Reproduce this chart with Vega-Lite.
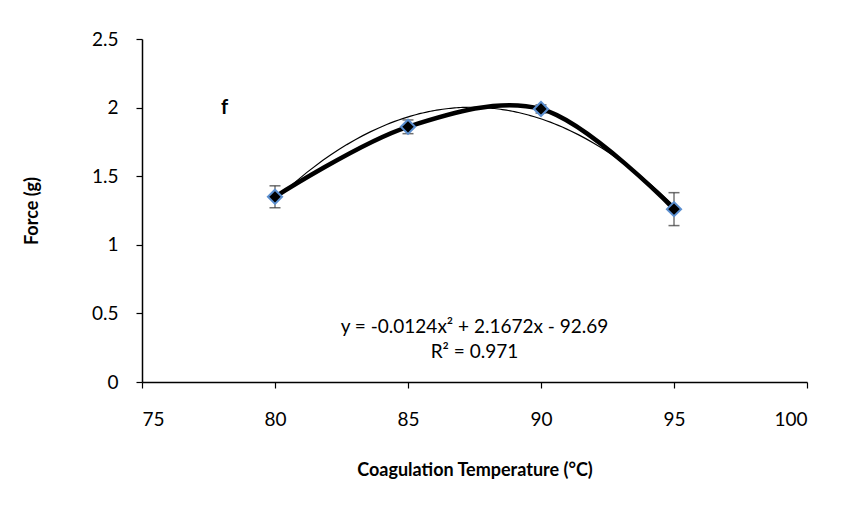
{
  "$schema": "https://vega.github.io/schema/vega-lite/v6.json",
  "autosize": "none",
  "width": 665,
  "height": 343,
  "padding": {"left": 142, "top": 39, "right": 38, "bottom": 134},
  "background": "white",
  "config": {
    "view": {"stroke": null},
    "font": "Lato",
    "axis": {
      "grid": false,
      "domainColor": "black",
      "domainWidth": 1.5,
      "tickColor": "black",
      "tickWidth": 1.2,
      "tickSize": 6,
      "labelFont": "Lato",
      "labelFontSize": 19,
      "labelColor": "black",
      "titleFont": "Lato",
      "titleFontSize": 18,
      "titleFontWeight": "bold",
      "titleColor": "black"
    }
  },
  "data": {
    "values": [
      {"temp": 80, "force": 1.35, "lo": 1.27, "hi": 1.43},
      {"temp": 85, "force": 1.86, "lo": 1.81, "hi": 1.91},
      {"temp": 90, "force": 1.99, "lo": 1.96, "hi": 2.02},
      {"temp": 95, "force": 1.26, "lo": 1.14, "hi": 1.38}
    ]
  },
  "layer": [
    {
      "transform": [
        {"regression": "force", "on": "temp", "method": "poly", "order": 2, "extent": [80, 95]}
      ],
      "mark": {"type": "line", "color": "black", "strokeWidth": 1.2},
      "encoding": {
        "x": {"field": "temp", "type": "quantitative"},
        "y": {"field": "force", "type": "quantitative"}
      }
    },
    {
      "mark": {"type": "line", "color": "black", "strokeWidth": 4.5, "interpolate": "catmull-rom"},
      "encoding": {
        "x": {
          "field": "temp", "type": "quantitative",
          "scale": {"domain": [75, 100], "nice": false, "zero": false},
          "axis": {"title": "Coagulation Temperature (°C)", "values": [75, 80, 85, 90, 95, 100], "format": "d", "labelPadding": 22, "titlePadding": 32}
        },
        "y": {
          "field": "force", "type": "quantitative",
          "scale": {"domain": [0, 2.5], "nice": false},
          "axis": {"title": "Force (g)", "values": [0, 0.5, 1, 1.5, 2, 2.5], "format": "~g", "labelPadding": 18, "titlePadding": 50}
        }
      }
    },
    {
      "mark": {"type": "rule", "color": "#333333", "strokeWidth": 1},
      "encoding": {
        "x": {"field": "temp", "type": "quantitative"},
        "y": {"field": "lo", "type": "quantitative"},
        "y2": {"field": "hi"}
      }
    },
    {
      "mark": {"type": "tick", "orient": "horizontal", "color": "#333333", "thickness": 1.5, "size": 11},
      "encoding": {
        "x": {"field": "temp", "type": "quantitative"},
        "y": {"field": "lo", "type": "quantitative"}
      }
    },
    {
      "mark": {"type": "tick", "orient": "horizontal", "color": "#333333", "thickness": 1.5, "size": 11},
      "encoding": {
        "x": {"field": "temp", "type": "quantitative"},
        "y": {"field": "hi", "type": "quantitative"}
      }
    },
    {
      "mark": {"type": "point", "shape": "diamond", "filled": true, "fill": "black", "stroke": "#5b8fd0", "strokeWidth": 2, "size": 200, "opacity": 1},
      "encoding": {
        "x": {"field": "temp", "type": "quantitative"},
        "y": {"field": "force", "type": "quantitative"}
      }
    },
    {
      "data": {"values": [
        {"x": 87.5, "y": 0.4, "label": "y = -0.0124x² + 2.1672x - 92.69"},
        {"x": 87.5, "y": 0.22, "label": "R² = 0.971"}
      ]},
      "mark": {"type": "text", "fontSize": 19, "font": "Lato", "color": "black", "align": "center", "baseline": "middle"},
      "encoding": {
        "x": {"field": "x", "type": "quantitative"},
        "y": {"field": "y", "type": "quantitative"},
        "text": {"field": "label"}
      }
    },
    {
      "data": {"values": [{"x": 78.1, "y": 2.0, "label": "f"}]},
      "mark": {"type": "text", "fontSize": 20, "fontWeight": "bold", "font": "Lato", "color": "black", "align": "center", "baseline": "middle"},
      "encoding": {
        "x": {"field": "x", "type": "quantitative"},
        "y": {"field": "y", "type": "quantitative"},
        "text": {"field": "label"}
      }
    }
  ]
}
